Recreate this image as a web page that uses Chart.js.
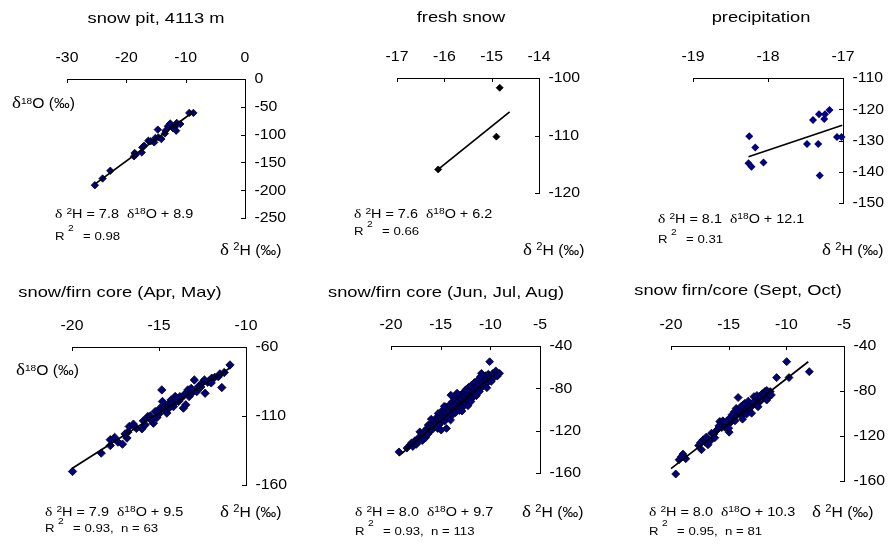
<!DOCTYPE html>
<html><head><meta charset="utf-8">
<script src="https://cdn.jsdelivr.net/npm/chart.js@4.4.0/dist/chart.umd.min.js"></script>
<style>
html,body{margin:0;padding:0;background:#fff;}
#wrap{position:relative;width:894px;height:544px;overflow:hidden;font-family:"Liberation Sans",Arial,sans-serif;color:#000;background:#fff;}
canvas{position:absolute;left:0;top:0;}
.t{position:absolute;white-space:nowrap;line-height:1;}
.d{font-family:"Liberation Serif","Times New Roman",serif;}
.s{position:relative;}
</style></head><body><div id="wrap"></div>
<script>
// ---------------- DATA (δ18O on x, δ2H on y) ----------------
// snow pit, 4113 m
const pitO = [-25.3,-24.0,-22.7,-18.7,-18.6,-18.4,-17.4,-17.3,-17.0,-16.3,-15.9,-15.3,-15.1,-14.7,-14.6,-14.1,-13.5,-13.4,-13.0,-12.6,-12.2,-11.8,-11.6,-11.5,-10.9,-9.4,-8.7];
const pitH = [-191,-179,-165,-139,-133,-136,-132,-123,-120,-111,-112,-114,-106,-91,-105,-108,-98,-93,-85,-80,-88,-86,-93,-79,-81,-61,-61];
const pitLineO = [-25.3,-8.7];
const pitLineH = [-189,-59];
const pitXTicks = [-30,-20,-10,0];
const pitYTicks = [0,-50,-100,-150,-200,-250];

// fresh snow
const freshO = [-14.83,-14.9,-16.13];
const freshH = [-101.7,-110.2,-115.9];
const freshLineO = [-16.13,-14.62];
const freshLineH = [-115.9,-105.9];
const freshXTicks = [-17,-16,-15,-14];
const freshYTicks = [-100,-110,-120];

// precipitation
const precO = [-18.25,-18.17,-18.26,-18.22,-18.06,-17.48,-17.40,-17.32,-17.24,-17.25,-17.18,-17.33,-17.31,-17.08,-17.02];
const precH = [-128.6,-132.2,-137.3,-138.4,-137.0,-131.1,-123.4,-121.6,-121.6,-123.1,-120.2,-131.1,-141.2,-128.9,-128.9];
const precLineO = [-18.26,-17.01];
const precLineH = [-135.2,-125.1];
const precXTicks = [-19,-18,-17];
const precYTicks = [-110,-120,-130,-140,-150];

// snow/firn core (Apr, May)
const amO = [-19.97,-18.32,-17.8,-17.8,-17.36,-17.1,-16.84,-16.79,-16.71,-16.47,-15.98,-15.79,-15.64,-15.32,-15.22,-15.12,-14.93,-14.84,-14.8,-14.65,-14.55,-14.46,-14.3,-14.17,-14.07,-13.88,-13.73,-13.6,-13.46,-13.34,-13.27,-13.12,-12.97,-12.83,-12.74,-12.54,-12.39,-12.35,-12.2,-12.12,-11.97,-11.8,-11.59,-11.39,-11.5,-10.92,
  -17.55,-16.95,-16.3,-15.9,-15.5,-15.45,-15.0,-14.7,-14.4,-14.25,-14.0,-13.8,-13.55,-13.15,-12.6,-12.0,-11.25];
const amH = [-150.2,-136.9,-127.2,-131.4,-128.9,-130.4,-126.0,-121.7,-117.6,-115.9,-119.3,-116.4,-110.4,-115.2,-106.8,-111.1,-104.3,-91.1,-99.5,-103.2,-107.9,-101.4,-98.3,-103.2,-95.9,-99.5,-97.1,-104.3,-101.9,-91.1,-95.9,-93.5,-83.9,-92.3,-88.7,-86.2,-83.9,-93.5,-85.5,-84.6,-82.6,-82.0,-81.5,-89.4,-79.5,-73.0,
  -125.5,-123.0,-119.0,-113.5,-110.0,-113.0,-108.5,-105.5,-104.0,-100.5,-99.0,-96.0,-94.5,-90.0,-89.0,-86.0,-78.5];
const amLineO = [-20.0,-10.9];
const amLineH = [-148,-75];
const amXTicks = [-20,-15,-10];
const amYTicks = [-60,-110,-160];

// snow/firn core (Jun, Jul, Aug)
const jjaO = [-19.2,-18.1,-17.93,-17.8,-17.6,-17.45,-17.3,-17.26,-17.1,-17.0,-16.9,-16.76,-16.6,-16.5,-16.4,-16.26,-16.2,-16.1,-16.0,-15.9,-15.8,-15.7,-15.6,-15.5,-15.4,-15.3,-15.26,-15.2,-15.1,-15.0,-14.9,-14.85,-14.8,-14.7,-14.6,-14.55,-14.5,-14.41,-14.35,-14.3,-14.2,-14.1,-14.05,-13.98,-13.9,-13.85,-13.8,-13.7,-13.6,-13.55,-13.5,-13.4,-13.3,-13.25,-13.2,-13.1,-13.0,-12.95,-12.9,-12.8,-12.7,-12.65,-12.6,-12.5,-12.45,-12.4,-12.3,-12.2,-12.15,-12.1,-12.0,-11.9,-11.85,-11.8,-11.7,-11.6,-11.55,-11.5,-11.4,-11.3,-11.25,-11.2,-11.1,-10.9,-10.9,-10.8,-10.7,-10.6,-10.5,-10.45,-10.3,-10.2,-10.07,-10.0,-9.9,-9.75,-9.6,-9.45,-9.3,-9.07,
  -18.4,-16.85,-16.3,-15.95,-15.15,-14.65,-14.0,-13.35,-12.85,-12.25,-11.95,-11.0,-10.35,-14.95];
const jjaH = [-140.0,-133.5,-131.5,-135.0,-129.5,-133.0,-131.0,-127.0,-121.1,-128.0,-124.0,-125.8,-120.5,-126.5,-118.0,-114.7,-122.0,-117.5,-120.0,-113.0,-118.5,-111.5,-116.0,-108.5,-113.5,-118.0,-103.7,-110.0,-106.5,-112.5,-104.0,-109.0,-100.5,-106.0,-111.0,-102.5,-97.5,-117.9,-104.5,-99.0,-108.0,-95.5,-102.0,-86.4,-98.5,-105.5,-92.5,-100.5,-96.0,-89.5,-103.0,-94.0,-98.0,-88.0,-92.0,-101.0,-95.0,-86.0,-90.5,-98.0,-84.0,-93.0,-88.0,-81.5,-95.0,-90.0,-85.5,-79.0,-92.0,-87.0,-83.0,-77.0,-89.5,-80.5,-85.0,-74.5,-82.0,-78.0,-87.0,-72.5,-80.0,-76.0,-83.0,-65.8,-74.0,-78.5,-70.0,-76.5,-68.0,-72.5,-75.0,-66.5,-54.8,-70.5,-73.5,-66.0,-69.5,-63.5,-68.5,-65.8,
  -136.5,-129.5,-123.5,-109.0,-114.5,-97.0,-110.0,-84.5,-101.5,-96.5,-92.5,-69.0,-79.5,-119.5];
const jjaLineO = [-19.2,-9.3];
const jjaLineH = [-143.9,-64.7];
const jjaXTicks = [-20,-15,-10,-5];
const jjaYTicks = [-40,-80,-120,-160];

// snow firn/core (Sept, Oct)
const soO = [-19.59,-19.3,-18.96,-18.72,-19.1,-17.36,-17.22,-17.05,-16.79,-16.6,-16.49,-16.3,-16.1,-15.95,-15.77,-15.6,-15.45,-15.3,-15.1,-14.96,-14.8,-14.6,-14.45,-14.3,-14.18,-14.05,-13.95,-13.85,-13.74,-13.65,-13.55,-13.45,-13.35,-13.25,-13.1,-13.01,-12.95,-12.81,-12.7,-12.6,-12.5,-12.4,-12.3,-12.2,-12.1,-12.0,-11.86,-11.8,-11.7,-11.6,-11.5,-10.84,-9.97,-9.77,-8.01,
  -17.6,-17.45,-16.95,-16.2,-15.85,-15.5,-15.2,-14.9,-14.7,-14.5,-14.35,-14.15,-13.9,-13.6,-13.3,-13.2,-12.85,-12.55,-12.25,-11.95,-11.4,-11.3,-11.7,-12.45,-13.8,-15.0];
const soH = [-153.8,-141.1,-136.1,-140.2,-138.5,-132.2,-123.4,-125.5,-127.8,-124.5,-117.5,-118.5,-115.5,-114.0,-107.1,-112.5,-110.5,-112.5,-109.5,-116.6,-107.5,-104.5,-106.5,-101.5,-85.8,-99.5,-96.5,-102.0,-92.3,-97.5,-95.0,-100.5,-94.0,-97.0,-91.5,-99.7,-93.0,-85.0,-89.5,-92.0,-87.0,-90.5,-84.5,-88.0,-82.5,-86.5,-80.5,-84.0,-79.5,-86.0,-83.0,-68.1,-53.9,-68.1,-62.8,
  -128.5,-126.0,-121.0,-121.5,-111.0,-106.5,-107.0,-104.0,-101.0,-98.5,-95.5,-97.5,-93.5,-91.0,-89.0,-94.5,-90.0,-84.0,-86.5,-83.5,-80.5,-83.5,-88.0,-94.0,-105.0,-113.0];
const soLineO = [-20.0,-8.1];
const soLineH = [-149,-54];
const soXTicks = [-20,-15,-10,-5];
const soYTicks = [-40,-80,-120,-160];

// ---------------- LAYOUT ----------------
const W = 894, H = 544;
const NAVY = '#000080';
const wrap = document.getElementById('wrap');

const TICK_FONT = '14px "Liberation Sans", Arial, sans-serif';
const TICK_STRETCH = 1.13;
const TICK_LEN = 4;

function stretchedText(ctx, text, x, y, align, s) {
  ctx.save();
  ctx.translate(x, y);
  ctx.scale(s, 1);
  ctx.textAlign = align;
  ctx.fillText(text, 0, 0);
  ctx.restore();
}
function fmt(v) { return String(Math.round(v * 100) / 100); }

const axisDecor = {
  id: 'axisDecor',
  afterDraw(chart) {
    const ctx = chart.ctx, xs = chart.scales.x, ys = chart.scales.y, ca = chart.chartArea;
    ctx.save();
    ctx.strokeStyle = '#000';
    ctx.lineWidth = 1;
    ctx.beginPath();
    xs.ticks.forEach(t => {
      const p = Math.round(xs.getPixelForValue(t.value)) + 0.5;
      ctx.moveTo(p, Math.round(ca.top)); ctx.lineTo(p, Math.round(ca.top) + TICK_LEN);
    });
    ys.ticks.forEach(t => {
      const p = Math.round(ys.getPixelForValue(t.value)) + 0.5;
      ctx.moveTo(Math.round(ca.right), p); ctx.lineTo(Math.round(ca.right) - TICK_LEN, p);
    });
    ctx.stroke();
    ctx.fillStyle = '#000';
    ctx.font = TICK_FONT;
    ctx.textBaseline = 'middle';
    xs.ticks.forEach(t => stretchedText(ctx, fmt(t.value), xs.getPixelForValue(t.value), ca.top - 20.5, 'center', TICK_STRETCH));
    ys.ticks.forEach(t => stretchedText(ctx, fmt(t.value), ca.right + 9.5, ys.getPixelForValue(t.value) + 0.5, 'left', TICK_STRETCH));
    ctx.restore();
  }
};

const panels = [
  {xs: pitO, ys: pitH, lx: pitLineO, ly: pitLineH, xt: pitXTicks, yt: pitYTicks, area: [67, 79, 245, 218], fill: NAVY, border: '#000', bw: 0.8, r: 3.7},
  {xs: freshO, ys: freshH, lx: freshLineO, ly: freshLineH, xt: freshXTicks, yt: freshYTicks, area: [397, 78, 539, 193], fill: '#000', border: '#000', bw: 0.8, r: 3.5},
  {xs: precO, ys: precH, lx: precLineO, ly: precLineH, xt: precXTicks, yt: precYTicks, area: [693, 78, 843, 203], fill: NAVY, border: NAVY, bw: 0, r: 4.0},
  {xs: amO, ys: amH, lx: amLineO, ly: amLineH, xt: amXTicks, yt: amYTicks, area: [72, 347, 246, 485], fill: NAVY, border: '#000', bw: 0.8, r: 4.2},
  {xs: jjaO, ys: jjaH, lx: jjaLineO, ly: jjaLineH, xt: jjaXTicks, yt: jjaYTicks, area: [391, 346, 540, 473], fill: NAVY, border: '#000', bw: 0.8, r: 3.9},
  {xs: soO, ys: soH, lx: soLineO, ly: soLineH, xt: soXTicks, yt: soYTicks, area: [671, 346, 844, 481], fill: NAVY, border: '#000', bw: 0.8, r: 4.0}
];

panels.forEach(p => {
  const c = document.createElement('canvas');
  c.width = W; c.height = H;
  c.style.width = W + 'px'; c.style.height = H + 'px';
  wrap.appendChild(c);
  const [L, T, R, B] = p.area;
  const scaleOpts = (ticks, pos) => ({
    type: 'linear', position: pos,
    min: Math.min(...ticks), max: Math.max(...ticks),
    ticks: {display: false, stepSize: Math.abs(ticks[1] - ticks[0])},
    grid: {display: true, drawOnChartArea: false, drawTicks: false, color: '#000'},
    border: {display: true, color: '#000', width: 1},
    afterFit: s => { if (pos === 'top') s.height = 0; else s.width = 0; }
  });
  new Chart(c, {
    type: 'scatter',
    data: {datasets: [
      {data: p.lx.map((x, i) => ({x, y: p.ly[i]})), showLine: true, pointRadius: 0, pointHoverRadius: 0,
       borderColor: '#000', borderWidth: 1.7, clip: false},
      {data: p.xs.map((x, i) => ({x, y: p.ys[i]})), pointStyle: 'rectRot', pointRadius: p.r, pointHoverRadius: p.r,
       backgroundColor: p.fill, borderColor: p.border, borderWidth: p.bw, clip: false}
    ]},
    options: {
      responsive: false, animation: false, devicePixelRatio: 1, events: [],
      layout: {padding: {left: L, top: T, right: W - R, bottom: H - B}},
      plugins: {legend: {display: false}, tooltip: {enabled: false}},
      scales: {x: scaleOpts(p.xt, 'top'), y: scaleOpts(p.yt, 'right')}
    },
    plugins: [axisDecor]
  });
});

// ---------------- TEXT ----------------
function T(html, x, y, size, align, s) {
  const d = document.createElement('div');
  d.className = 't';
  d.innerHTML = html;
  d.style.left = x + 'px';
  d.style.top = y + 'px';
  d.style.fontSize = size + 'px';
  if (align === 'center') {
    d.style.transformOrigin = '50% 50%';
    d.style.transform = `translate(-50%,-50%) scaleX(${s})`;
  } else {
    d.style.transformOrigin = '0 50%';
    d.style.transform = `translateY(-50%) scaleX(${s})`;
  }
  wrap.appendChild(d);
}
const sup = (t, size, up) => `<span class="s" style="font-size:${size}px;top:-${up}px">${t}</span>`;
const dl = (size) => `<span class="d" style="font-size:${size}px">δ</span>`;

const titles = [
  ['snow pit, 4113 m', 156, 16.5],
  ['fresh snow', 461, 16],
  ['precipitation', 760.5, 16],
  ['snow/firn core (Apr, May)', 120, 290.5],
  ['snow/firn core (Jun, Jul, Aug)', 446, 290.5],
  ['snow firn/core (Sept, Oct)', 738, 289]
];
titles.forEach(t => T(t[0], t[1], t[2], 15, 'center', 1.22));

const o18Label = dl(17) + sup('18', 9, 4) + 'O (‰)';
T(o18Label, 11.5, 102, 14, 'left', 1.12);
T(o18Label, 16, 369, 14, 'left', 1.12);

const h2Label = dl(17) + ' ' + sup('2', 10, 5) + 'H (‰)';
[[220, 248.5], [522.5, 248.5], [822, 249.3], [220, 511.3], [521.5, 511.3], [812, 511.3]]
  .forEach(p => T(h2Label, p[0], p[1], 14, 'left', 1.12));

const eqs = [
  ['7.8', '8.9', 55, 213.3], ['7.6', '6.2', 354, 212.7], ['8.1', '12.1', 658, 218.3],
  ['7.9', '9.5', 45, 511.3], ['8.0', '9.7', 355, 510.7], ['8.0', '10.3', 649, 511.3]
];
eqs.forEach(e => T(dl(13) + ' ' + sup('2', 8.5, 4) + 'H = ' + e[0] + '&nbsp;&nbsp;' + dl(13) + sup('18', 8.5, 4) + 'O + ' + e[1], e[2], e[3], 12, 'left', 1.2));

const r2 = [
  ['0.98', 55, 235.7], ['0.66', 354, 231], ['0.31', 658, 239.3],
  ['0.93,&nbsp;&nbsp;n = 63', 45, 528], ['0.93,&nbsp;&nbsp;n = 113', 355, 530.5], ['0.95,&nbsp;&nbsp;n = 81', 649, 530.5]
];
r2.forEach(r => {
  T('R', r[1], r[2], 11, 'left', 1.2);
  T('2', r[1] + 13, r[2] - 7.5, 8.5, 'left', 1.2);
  T('= ' + r[0], r[1] + 28, r[2], 11, 'left', 1.2);
});
</script>
</body></html>
